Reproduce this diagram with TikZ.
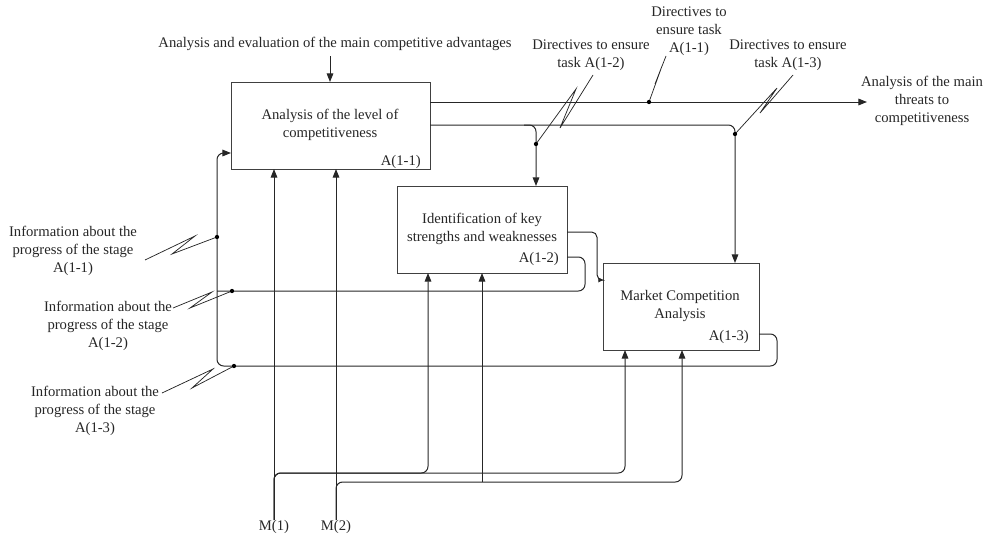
\documentclass[tikz,border=0pt]{standalone}
\usepackage{fontspec}
\setmainfont{Liberation Serif}
\usetikzlibrary{arrows.meta}
\begin{document}
\begin{tikzpicture}[x=0.75pt,y=-0.75pt,
  every node/.style={font=\fontsize{11}{13.5}\selectfont, inner sep=0pt, align=center, text=black!85},
  box/.style={draw=black!75, line width=1pt, minimum height=65.25pt, minimum width=#1, anchor=north west},
  ln/.style={draw=black!85, line width=0.75pt},
  arr/.style={-{Triangle[length=6.5pt,width=5pt]}},
  sarr/.style={-{Triangle[length=3.5pt,width=3.5pt]}},
  sq/.style={draw=black!85, line width=0.55pt},
  dot/.style={circle, fill=black, inner sep=0pt, minimum size=3.2pt}]
\useasboundingbox (0,0) rectangle (991,539);

% boxes
\node[box=149.25pt] (A11) at (231,82) {};
\node[box=127.5pt] (A12) at (397,186) {};
\node[box=117pt] (A13) at (603,263) {};

\node (A11t) at (330,125) {Analysis of the level of\\competitiveness};
\node[anchor=east] (A11n) at (421,162) {A(1-1)};
\node (A12t) at (482,229) {Identification of key\\strengths and weaknesses};
\node[anchor=east] (A12n) at (559,259) {A(1-2)};
\node (A13t) at (680,306) {Market Competition\\Analysis};
\node[anchor=east] (A13n) at (749,337) {A(1-3)};

% texts
\node (ctrl) at (335,44) {Analysis and evaluation of the main competitive advantages};
\node (out) at (922,101) {Analysis of the main\\threats to\\competitiveness};
\node (dir12) at (591,55) {Directives to ensure\\task A(1-2)};
\node (dir11) at (689,31) {Directives to\\ensure task\\A(1-1)};
\node (dir13) at (788,55) {Directives to ensure\\task A(1-3)};
\node (inf11) at (73,251) {Information about the\\progress of the stage\\A(1-1)};
\node (inf12) at (108,326) {Information about the\\progress of the stage\\A(1-2)};
\node (inf13) at (95,411) {Information about the\\progress of the stage\\A(1-3)};
\node (M1) at (274,527) {M(1)};
\node (M2) at (336,527) {M(2)};

% control into A11
\draw[ln,arr] (330,56) -- (330,82);

% outputs of A11
\coordinate (outend) at (867,102);
\draw[ln,arr] (430,102) -- (outend);
\draw[ln,arr,rounded corners=5pt] (430,125) -- (735,125) -- (735,263);
\draw[ln,arr,rounded corners=5pt] (524,125) -- (536,125) -- (536,186);

% A12 outputs
\draw[ln,sarr,rounded corners=4pt] (567,232) -- (597,232) -- (597,280) -- (603,280);
\draw[ln,rounded corners=5pt] (567,257) -- (585,257) -- (585,291) -- (217,291);

% A13 feedback to A11
\draw[ln,arr,rounded corners=5pt] (759,334) -- (777,334) -- (777,366) -- (217,366) -- (217,153) -- (231,153);

% mechanisms
\draw[ln,arr] (M1.north) -- (274,169);
\draw[ln,arr,rounded corners=5pt] (M1.north) -- (274,473) -- (428,473) -- (428,273);
\draw[ln,arr,rounded corners=5pt] (M1.north) -- (274,473) -- (625,473) -- (625,350);
\draw[ln,arr] (M2.north) -- (336,169);
\draw[ln,arr,rounded corners=5pt] (M2.north) -- (336,482) -- (682,482) -- (682,350);
\draw[ln,arr] (482,482) -- (482,273);

% squiggles
\coordinate (d12) at (536,144);
\coordinate (d11) at (649,102);
\coordinate (d13) at (735,134);
\coordinate (l11) at (217,237);
\coordinate (l12) at (232,291);
\coordinate (l13) at (234,366);
\draw[sq] (593,75) -- (560,128) -- (576,89) -- (d12);
\draw[sq] (666,56) -- (655,84) -- (662,66) -- (d11);
\draw[sq] (793,75) -- (760,113) -- (777,88) -- (d13);
\draw[sq] (145,260) -- (195,236) -- (172,254) -- (l11);
\draw[sq] (173,308) -- (212,292) -- (190,308) -- (l12);
\draw[sq] (162,393) -- (213,369) -- (192,388) -- (l13);
\foreach \p in {d12,d11,d13,l11,l12,l13} \node[dot] at (\p) {};
\end{tikzpicture}
\end{document}
